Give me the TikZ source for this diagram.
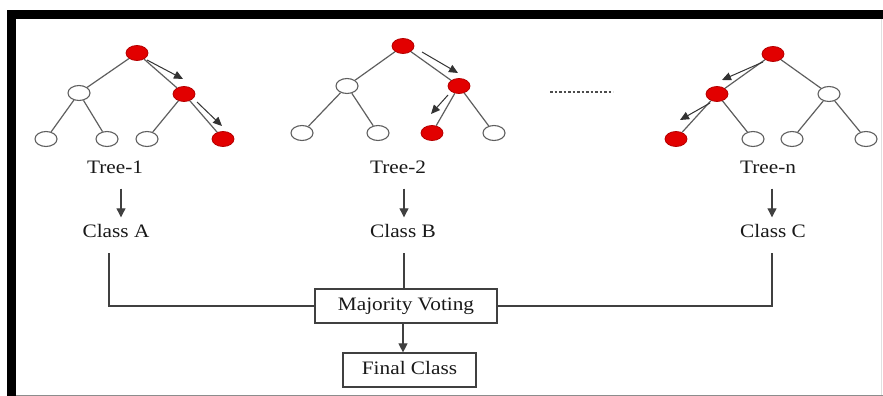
\documentclass[tikz,border=0pt]{standalone}
\usepackage{fontspec}
\setmainfont{Liberation Serif}[FakeStretch=1.12]
\usetikzlibrary{arrows.meta,shapes.geometric}
\definecolor{nodered}{RGB}{226,0,0}
\definecolor{edgegray}{RGB}{95,95,95}
\definecolor{txt}{RGB}{25,25,25}
\tikzset{
  wnode/.style={ellipse,draw=edgegray,line width=1.1pt,fill=white,minimum width=22pt,minimum height=15pt,inner sep=0pt},
  rnode/.style={ellipse,draw=nodered!80!black,line width=0.8pt,fill=nodered,minimum width=22pt,minimum height=15pt,inner sep=0pt},
  tedge/.style={draw=edgegray,line width=1.2pt},
  tarrow/.style={draw=black!80,line width=1pt,-{Triangle[width=8pt,length=9pt]}},
  lbl/.style={text=txt,font=\fontsize{19pt}{22pt}\selectfont,text height=13pt,text depth=4pt,inner sep=3pt},
  boxn/.style={lbl,draw=black!75,line width=1.2pt,minimum height=34pt},
  conn/.style={draw=black!75,line width=1.1pt},
  varrow/.style={conn,-{Triangle[width=9pt,length=9pt]}}
}
\begin{document}
\begin{tikzpicture}[x=1pt,y=-1pt]
\useasboundingbox (0,0) rectangle (883,396);
\fill[white] (0,0) rectangle (883,396);
% frame
\fill[black] (7,10) rectangle (883,19);
\fill[black] (7,10) rectangle (16,396);
\draw[black!45,line width=1pt] (16,395) -- (883,395);
\draw[black!12,line width=0.8pt] (881,19) -- (881,395);

% ---- Tree 1
\node[rnode] (r1) at (137,53) {};
\node[wnode] (l1) at (79,93) {};
\node[rnode] (m1) at (184,94) {};
\node[wnode] (a1) at (46,139) {};
\node[wnode] (b1) at (107,139) {};
\node[wnode] (c1) at (147,139) {};
\node[rnode] (d1) at (223,139) {};
\draw[tedge] (r1) -- (l1); \draw[tedge] (r1) -- (m1);
\draw[tedge] (l1) -- (a1); \draw[tedge] (l1) -- (b1);
\draw[tedge] (m1) -- (c1); \draw[tedge] (m1) -- (d1);
\coordinate (p1s) at (147,60); \coordinate (p1e) at (183,79);
\coordinate (q1s) at (197,102); \coordinate (q1e) at (222,126);
\draw[tarrow] (p1s) -- (p1e);
\draw[tarrow] (q1s) -- (q1e);

% ---- Tree 2
\node[rnode] (r2) at (403,46) {};
\node[wnode] (l2) at (347,86) {};
\node[rnode] (m2) at (459,86) {};
\node[wnode] (a2) at (302,133) {};
\node[wnode] (b2) at (378,133) {};
\node[rnode] (c2) at (432,133) {};
\node[wnode] (d2) at (494,133) {};
\draw[tedge] (r2) -- (l2); \draw[tedge] (r2) -- (m2);
\draw[tedge] (l2) -- (a2); \draw[tedge] (l2) -- (b2);
\draw[tedge] (m2) -- (c2); \draw[tedge] (m2) -- (d2);
\coordinate (p2s) at (422,52); \coordinate (p2e) at (458,73);
\coordinate (q2s) at (448,95); \coordinate (q2e) at (431,114);
\draw[tarrow] (p2s) -- (p2e);
\draw[tarrow] (q2s) -- (q2e);

% ---- dots
\draw[black!70,line width=2pt,dash pattern=on 2.5pt off 2pt] (550,92) -- (613,92);

% ---- Tree n
\node[rnode] (r3) at (773,54) {};
\node[rnode] (l3) at (717,94) {};
\node[wnode] (m3) at (829,94) {};
\node[rnode] (a3) at (676,139) {};
\node[wnode] (b3) at (753,139) {};
\node[wnode] (c3) at (792,139) {};
\node[wnode] (d3) at (866,139) {};
\draw[tedge] (r3) -- (l3); \draw[tedge] (r3) -- (m3);
\draw[tedge] (l3) -- (a3); \draw[tedge] (l3) -- (b3);
\draw[tedge] (m3) -- (c3); \draw[tedge] (m3) -- (d3);
\coordinate (p3s) at (763,62); \coordinate (p3e) at (722,80);
\coordinate (q3s) at (710,103); \coordinate (q3e) at (680,120);
\draw[tarrow] (p3s) -- (p3e);
\draw[tarrow] (q3s) -- (q3e);

% ---- labels
\node[lbl] (t1) at (115,169) {Tree-1};
\node[lbl] (t2) at (398,169) {Tree-2};
\node[lbl] (t3) at (768,169) {Tree-n};
\node[lbl] (cA) at (116,233) {Class A};
\node[lbl] (cB) at (403,233) {Class B};
\node[lbl] (cC) at (773,233) {Class C};
\node[boxn,minimum width=182pt] (mv) at (406,306) {Majority Voting};
\node[boxn,minimum width=133pt] (fc) at (409.5,370) {Final Class};

% ---- arrows tree -> class
\draw[varrow,shorten <=8pt,shorten >=4pt] ([xshift=6pt]t1.south) -- ([xshift=6pt]t1.south |- cA.north);
\draw[varrow,shorten <=8pt,shorten >=4pt] ([xshift=6pt]t2.south) -- ([xshift=6pt]t2.south |- cB.north);
\draw[varrow,shorten <=8pt,shorten >=4pt] ([xshift=4pt]t3.south) -- ([xshift=4pt]t3.south |- cC.north);

% ---- class -> voting
\draw[conn,shorten <=8.5pt] ([xshift=-7pt]cA.south) |- (mv.west);
\draw[conn,shorten <=8.5pt] ([xshift=1pt]cB.south) -- ([xshift=1pt]cB.south |- mv.north);
\draw[conn,shorten <=8.5pt] ([xshift=-1pt]cC.south) |- (mv.east);
\draw[varrow] (mv.south -| cB.south) -- (fc.north -| cB.south);
\end{tikzpicture}
\end{document}
